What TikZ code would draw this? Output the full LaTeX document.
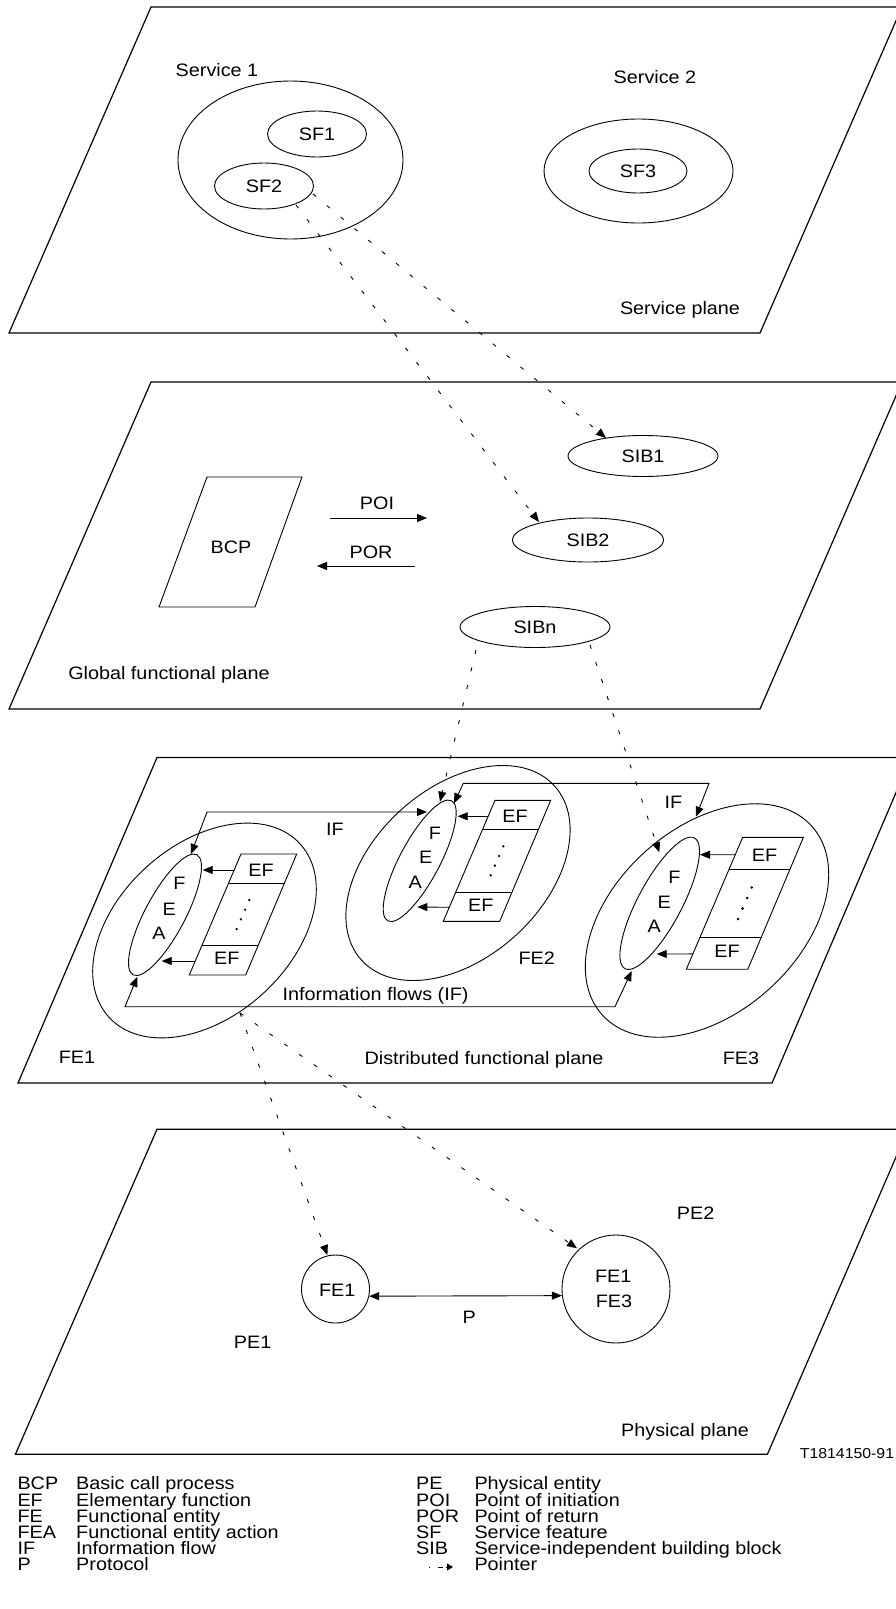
\documentclass[tikz,border=0pt]{standalone}
\usepackage{fontspec}
\setmainfont{Liberation Sans}[FakeStretch=1.1]
\usetikzlibrary{shapes.geometric,arrows.meta}
\newcommand{\lblfont}{\fontsize{18}{21}\selectfont}
\newcommand{\tagfont}{\fontsize{14.4}{17}\selectfont}
\tikzset{
  plane/.style={draw, line width=1.2pt, line join=miter},
  ln/.style={line width=0.9pt},
  lbl/.style={font=\lblfont, inner sep=0pt, text height=12.9pt, text depth=0pt},
  ell/.style={draw, ellipse, line width=0.9pt, inner sep=0pt},
  tipa/.style={line width=0.9pt, -{Triangle[length=10pt,width=8pt]}},
  tipb/.style={line width=0.9pt, {Triangle[length=10pt,width=8pt]}-{Triangle[length=10pt,width=8pt]}},
  pointer/.style={line width=0.9pt, dash pattern=on 4pt off 14pt, -{Triangle[length=10pt,width=8pt]}},
  efstack/.pic={
    \draw[ln] (0,0) -- (55.7,0) -- (4.7,121) -- (-51.7,121) -- cycle;
    \draw[ln] (-12.5,29.3) -- (43.2,29.3);
    \draw[ln] (-39.2,91.7) -- (16.5,91.7);
    \node[lbl] at (20,16) {EF};
    \node[lbl] at (-14.3,104.3) {EF};
    \foreach \p in {(8.3,46),(4.1,55.7),(-0.1,65.3),(-4.3,75)} \fill \p circle (1.3pt);
    \coordinate (-a) at (-6.8,16);
    \coordinate (-b) at (-45.7,107);
  },
}
\begin{document}
\begin{tikzpicture}[x=1pt,y=-1pt]
\useasboundingbox (0,0) rectangle (896,1609);
\clip (0,0) rectangle (896,1609);

% ---------- planes ----------
\draw[plane] (151,7) -- (902,7) -- (760,333) -- (9,333) -- cycle;
\draw[plane] (151,382) -- (902,382) -- (760,709) -- (9,709) -- cycle;
\draw[plane] (157,757.5) -- (911,757.5) -- (772,1083) -- (18,1083) -- cycle;
\draw[plane] (157,1129.3) -- (908,1129.3) -- (767.4,1454.3) -- (15.4,1454.3) -- cycle;

% ---------- service plane ----------
\node[lbl] (s1lbl) at (217,70) {Service 1};
\node[ell, minimum width=225pt, minimum height=158pt] (srv1) at (290.5,160) {};
\node[ell, lbl, minimum width=99pt, minimum height=46pt] (sf1) at (317,134) {SF1};
\node[ell, lbl, minimum width=99pt, minimum height=46pt] (sf2) at (264,186) {SF2};
\node[lbl] (s2lbl) at (655,77) {Service 2};
\node[ell, minimum width=189pt, minimum height=104pt] (srv2) at (638.5,171) {};
\node[ell, lbl, minimum width=98pt, minimum height=44pt] (sf3) at (638,171) {SF3};
\node[lbl] (splane) at (680,308) {Service plane};

% ---------- global functional plane ----------
\node[ell, lbl, minimum width=150pt, minimum height=41pt] (sib1) at (643,456) {SIB1};
\node[ell, lbl, minimum width=151pt, minimum height=44pt] (sib2) at (588,540) {SIB2};
\node[ell, lbl, minimum width=150pt, minimum height=41pt] (sibn) at (535,627) {SIBn};
\draw[ln] (207,477) -- (302,477) -- (255,607) -- (159,607) -- cycle;
\node[lbl] (bcp) at (231,547) {BCP};
\coordinate (poiA) at (330,518);
\coordinate (poiB) at (427,518);
\coordinate (porA) at (415,566);
\coordinate (porB) at (317,566);
\draw[tipa] (poiA) -- (poiB);
\draw[tipa] (porA) -- (porB);
\node[lbl] (poi) at (377,503) {POI};
\node[lbl] (por) at (371,552) {POR};
\node[lbl] (gfp) at (169,673) {Global functional plane};

% ---------- distributed functional plane ----------
\node[ell, minimum width=258pt, minimum height=172pt, rotate=42] (fe1) at (204.5,930.5) {};
\node[ell, minimum width=260pt, minimum height=170pt, rotate=42] (fe2) at (458,873) {};
\node[ell, minimum width=282pt, minimum height=185pt, rotate=42] (fe3) at (707,920.5) {};
\node[ell, minimum width=136pt, minimum height=40pt, rotate=62] (fea1) at (165,914.8) {};
\node[ell, minimum width=136pt, minimum height=40pt, rotate=62] (fea2) at (419.7,860.8) {};
\node[ell, minimum width=148pt, minimum height=44pt, rotate=62] (fea3) at (659.7,903.3) {};

\node[lbl] at (179.3,883.3) {F};
\node[lbl] at (169.3,909) {E};
\node[lbl] at (159,933.3) {A};
\node[lbl] at (435,832.7) {F};
\node[lbl] at (425.7,857.3) {E};
\node[lbl] at (415.3,881.7) {A};
\node[lbl] at (674.3,876.7) {F};
\node[lbl] at (664.3,901.7) {E};
\node[lbl] at (654.3,926) {A};

\pic (ef1) at (241,854) {efstack};
\pic (ef2) at (495,800.3) {efstack};
\pic[scale=1.09] (ef3) at (742.7,837.3) {efstack};

\coordinate (t1a) at (202.7,870);
\coordinate (t1b) at (161.7,961);
\coordinate (t2a) at (457.7,816.3);
\coordinate (t2b) at (417.3,907);
\coordinate (t3a) at (700,854.7);
\coordinate (t3b) at (656.7,954);
\draw[tipa] (ef1-a) -- (t1a);
\draw[tipa] (ef1-b) -- (t1b);
\draw[tipa] (ef2-a) -- (t2a);
\draw[tipa] (ef2-b) -- (t2b);
\draw[tipa] (ef3-a) -- (t3a);
\draw[tipa] (ef3-b) -- (t3b);

% information flows
\draw[tipb] (191,854) -- (207,812) -- (427,812);
\draw[tipb] (454,803.3) -- (463.3,783.3) -- (709,783.3) -- (696,816.7);
\draw[tipb] (137.3,976.7) -- (125,1006.7) -- (615,1006.7) -- (631.7,971);

\node[lbl] (if1) at (335,829) {IF};
\node[lbl] (if2) at (673.3,801.7) {IF};
\node[lbl] (iflows) at (375.5,994) {Information flows (IF)};
\node[lbl] (fe1lbl) at (77,1057) {FE1};
\node[lbl] (fe2lbl) at (536.7,958) {FE2};
\node[lbl] (fe3lbl) at (741,1058) {FE3};
\node[lbl] (dfp) at (484,1058) {Distributed functional plane};

% ---------- physical plane ----------
\node[draw, circle, line width=0.9pt, inner sep=0pt, minimum size=68pt] (pfe1) at (335.5,1289) {};
\node[lbl] at (337.3,1290) {FE1};
\node[draw, circle, line width=0.9pt, inner sep=0pt, minimum size=108pt] (pfe13) at (616,1289) {};
\node[lbl] at (613.3,1276) {FE1};
\node[lbl] at (614,1301) {FE3};
\draw[tipb] (pfe1.-12) -- (pfe13.187.5);
\node[lbl] (plbl) at (469.3,1317.3) {P};
\node[lbl] (pe1) at (252.6,1342) {PE1};
\node[lbl] (pe2) at (695.7,1213) {PE2};
\node[lbl] (pplane) at (685,1430) {Physical plane};
\node[font=\tagfont, inner sep=0pt, text height=10.3pt, text depth=0pt] (tag) at (847,1453) {T1814150-91};

% ---------- pointers ----------
\coordinate (pA1) at (313,194);
\coordinate (pA2) at (606,438);
\coordinate (pB1) at (296,205);
\coordinate (pB2) at (539,522);
\coordinate (pC1) at (476,650);
\coordinate (pC2) at (440,801.7);
\coordinate (pD1) at (590,645);
\coordinate (pD2) at (659.3,852.3);
\coordinate (pE1) at (240,1013);
\coordinate (pE2) at (327.4,1255);
\coordinate (pF2) at (577,1248.3);
\draw[pointer] (pA1) -- (pA2);
\draw[pointer] (pB1) -- (pB2);
\draw[pointer] (pC1) -- (pC2);
\draw[pointer] (pD1) -- (pD2);
\draw[pointer] (pE1) -- (pE2);
\draw[pointer] (pE1) -- (pF2);

% ---------- legend ----------
\foreach \ab/\de [count=\i from 0] in {BCP/Basic call process, EF/Elementary function, FE/Functional entity, FEA/Functional entity action, IF/Information flow, P/Protocol}{
  \node[lbl, anchor=west] at (17.3,{1483.3+16.24*\i}) {\ab};
  \node[lbl, anchor=west] at (76,{1483.3+16.24*\i}) {\de};
}
\foreach \ab/\de [count=\i from 0] in {PE/Physical entity, POI/Point of initiation, POR/Point of return, SF/Service feature, SIB/Service-independent building block}{
  \node[lbl, anchor=west] at (416,{1483.3+16.24*\i}) {\ab};
  \node[lbl, anchor=west] at (474.3,{1483.3+16.24*\i}) {\de};
}
\coordinate (legA) at (429,1567);
\coordinate (legB) at (453,1567);
\draw[line width=0.9pt, dash pattern=on 1pt off 8pt on 5pt off 3pt, -{Triangle[length=6pt,width=7pt]}] (legA) -- (legB);
\node[lbl, anchor=west] at (474.3,1564.5) {Pointer};
\end{tikzpicture}
\end{document}
